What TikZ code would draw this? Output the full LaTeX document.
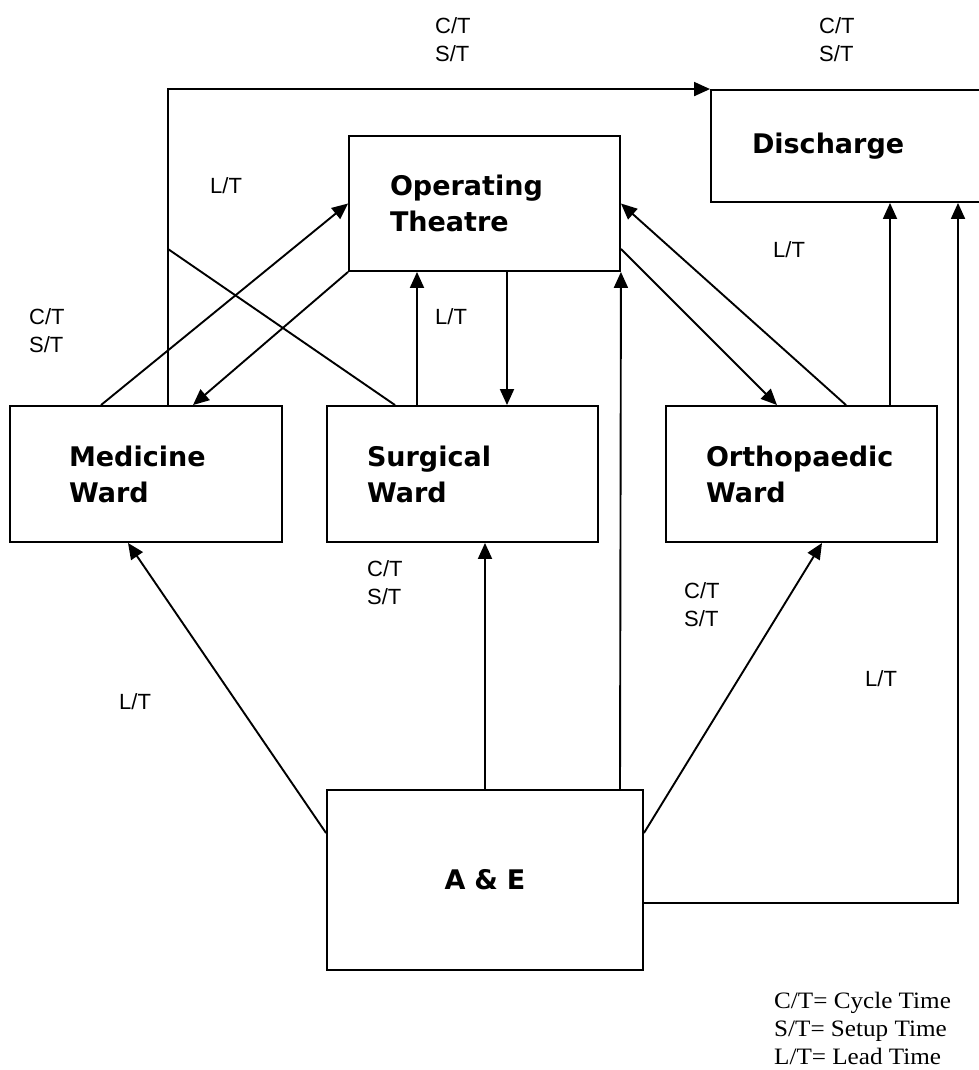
\documentclass[tikz,border=0pt]{standalone}
\usepackage{fontspec}
\setmainfont{Liberation Sans}
\newfontfamily\boxfont{DejaVu Sans}
\newfontfamily\keyfont{Liberation Serif}[FakeStretch=1.07]
\usetikzlibrary{arrows.meta}
\lineskiplimit=-20pt

\begin{document}
\begin{tikzpicture}[x=1pt, y=-1pt,
			block/.style = {draw, black, line width=1.9pt, rectangle, inner ysep=0pt, align=left, font=\boxfont\bfseries\fontsize{27}{36}\selectfont},
			arr/.style   = {black, line width=1.9pt, -{Triangle[length=16pt,width=14pt]}},
			lin/.style   = {black, line width=1.9pt},
			note/.style  = {anchor=north west, inner sep=0pt, align=left, font=\fontsize{22}{28.5}\selectfont},]
			
			\useasboundingbox (0,0) rectangle (979,1070);
			\fill[white] (0,0) rectangle (979,1070);
			\clip (0,0) rectangle (979,1070);
			
			%% BOXES
			\node[block, minimum width=329pt, minimum height=112pt, text width=247pt, inner xsep=41pt] (dis) at (875.5,146) {Discharge};
			\node[block, minimum width=271pt, minimum height=135pt, text width=189pt, inner xsep=41pt] (ot) at (484.5,203.5) {Operating\\Theatre};
			\node[block, minimum width=272pt, minimum height=136pt, text width=154pt, inner xsep=59pt] (med) at (146,474) {Medicine\\Ward};
			\node[block, minimum width=271pt, minimum height=136pt, text width=191pt, inner xsep=40pt] (sur) at (462.5,474) {Surgical\\Ward};
			\node[block, minimum width=271pt, minimum height=136pt, text width=191pt, inner xsep=40pt] (ort) at (801.5,474) {Orthopaedic\\Ward};
			\node[block, minimum width=316pt, minimum height=180pt, text width=234pt, inner xsep=41pt, align=center] (ae) at (485,880) {A \& E};
			
			%% WARDS AND THEATRE
			\draw[arr] ([xshift=-45pt]med.north) -- (ot.west);
			\draw[arr] (ot.south west) -- ([xshift=47pt]med.north);
			\draw[arr] ([xshift=-45.5pt]sur.north) -- ([xshift=-67.5pt]ot.south);
			\draw[arr] ([xshift=22.5pt]ot.south) -- ([xshift=44.5pt]sur.north);
			\draw[arr] ([yshift=-45.5pt]ot.east) -- ([xshift=-24.5pt]ort.north);
			\draw[arr] ([xshift=44.5pt]ort.north) -- (ot.east);
			
			%% TO DISCHARGE
			\coordinate (jn) at (168,249);
			\draw[arr] ([xshift=22pt]med.north) |- (dis.north west);
			\draw[lin] ([xshift=-67.5pt]sur.north) -- (jn);
			\draw[arr] ([xshift=88.5pt]ort.north) -- ([xshift=14.5pt]dis.south);
			\draw[arr] ([yshift=-23pt]ae.east) -| ([xshift=82.5pt]dis.south);
			
			%% FROM A & E
			\draw[arr] ([yshift=47pt]ae.west) -- ([xshift=-18pt]med.south);
			\draw[arr] (ae.north) -- ([xshift=22.5pt]sur.south);
			\draw[arr] ([xshift=135pt]ae.north) -- (ot.south east);
			\draw[arr] ([yshift=47pt]ae.east) -- ([xshift=20.5pt]ort.south);
			
			%% TIMES
			\node[note] (ct1) at (435,17) {C/T\\S/T};
			\node[note] (ct2) at (819,17) {C/T\\S/T};
			\node[note] (lt1) at (210,177) {L/T};
			\node[note] (ct3) at (29,308) {C/T\\S/T};
			\node[note] (lt2) at (435,308) {L/T};
			\node[note] (lt3) at (773,241) {L/T};
			\node[note] (ct4) at (367,560) {C/T\\S/T};
			\node[note] (ct5) at (684,582) {C/T\\S/T};
			\node[note] (lt4) at (119,693) {L/T};
			\node[note] (lt5) at (865,670) {L/T};
			
			%% KEY
			\node[anchor=north west, inner sep=0pt, align=left, font=\keyfont\fontsize{23.5}{28}\selectfont] (key) at (774,992) {C/T= Cycle Time\\S/T= Setup Time\\L/T= Lead Time};
			\end{tikzpicture}
\end{document}
